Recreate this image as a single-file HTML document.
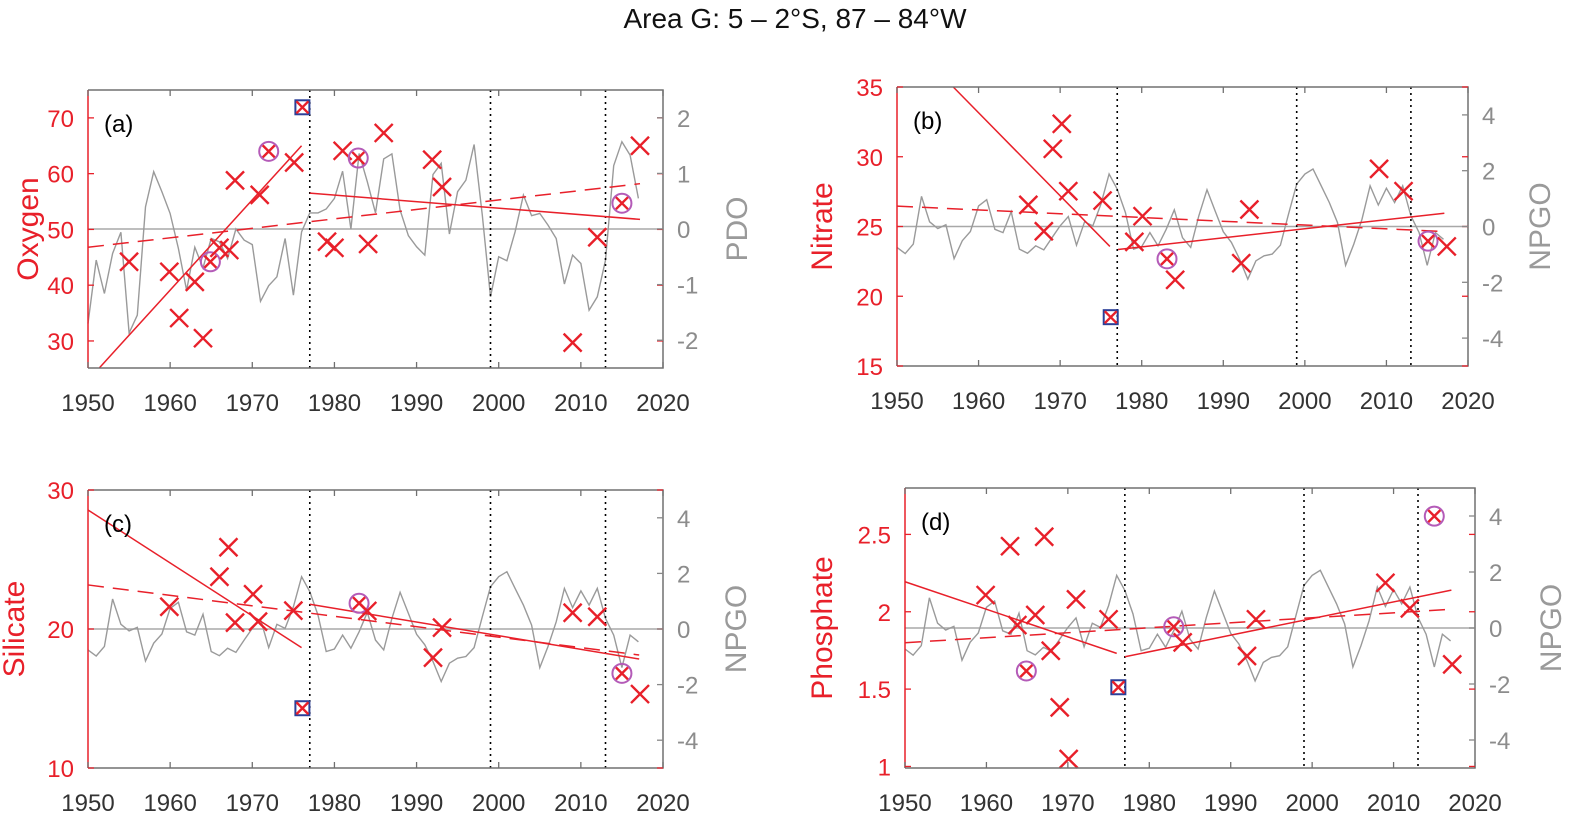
<!DOCTYPE html>
<html><head><meta charset="utf-8"><style>
html,body{margin:0;padding:0;background:#fff;}
svg{display:block;font-family:"Liberation Sans",sans-serif;}
</style></head><body>
<svg id="fig" width="1569" height="816" viewBox="0 0 1569 816" xmlns="http://www.w3.org/2000/svg">
<text x="795" y="28" text-anchor="middle" font-size="28" fill="#111">Area G: 5 – 2°S, 87 – 84°W</text>
</svg>
<script>
const years = [];
for (let y = 1950; y <= 2017; y++) years.push(y);
const pdo = [-1.7,-0.56,-1.16,-0.44,-0.06,-1.87,-1.55,0.4,1.03,0.67,0.28,-0.35,-1.1,-0.33,-0.7,-0.17,-0.23,-0.53,0,-0.2,-0.28,-1.3,-1.02,-0.86,-0.17,-1.19,-0.05,0.29,0.29,0.36,0.55,1.04,0,1.36,0.85,0.29,1.26,1.35,0.34,-0.12,-0.32,-0.47,0.98,1.18,-0.09,0.67,0.88,1.52,0.25,-1.22,-0.5,-0.57,-0.05,0.61,0.24,0.28,0.07,-0.17,-0.99,-0.47,-0.62,-1.46,-1.22,-0.56,1.14,1.57,1.33,0.55];
const npgo = [-0.75,-0.97,-0.63,1.08,0.17,-0.07,0.06,-1.15,-0.51,-0.18,0.74,0.96,-0.1,-0.22,0.53,-0.81,-0.96,-0.69,-0.84,-0.4,0.02,0.36,-0.67,0.17,0.02,0.8,1.88,1.34,0.5,-0.81,-0.72,-0.22,-0.69,-0.1,0.6,-0.4,-0.75,0.38,1.32,0.56,-0.19,-0.57,-1.17,-1.89,-1.23,-1.05,-0.99,-0.67,0.44,1.52,1.88,2.06,1.46,0.86,0.14,-1.39,-0.63,0.26,1.46,0.77,1.37,0.86,1.46,0.38,-0.22,-1.39,-0.22,-0.46];

const oxyYears = [1955,1959.9,1961.1,1963,1964,1964.9,1966,1967.2,1967.9,1970.9,1972,1975.1,1976.1,1979.1,1980,1981,1982.9,1984.1,1986,1991.9,1993.1,2009,2012,2015,2017.2];
const oxyVals = [44.2,42.4,34.1,40.6,30.5,44.2,46.7,46.3,58.8,56.2,64.0,62.0,71.9,47.8,46.7,64.1,62.8,47.4,67.3,62.5,57.6,29.7,48.6,54.7,65.0];
const oxyKind = ['x','x','x','x','x','o','x','x','x','x','o','x','s','x','x','x','o','x','x','x','x','x','x','o','x'];
const oxyTrend = [[1951.4,25.2,1976,65,'solid'],[1977,56.5,2017.2,51.8,'solid'],[1950,46.8,2017.2,58.2,'dash']];

const nitYears = [1966.1,1968,1969.1,1970.2,1971,1975.2,1976.2,1979.1,1980.1,1983.1,1984.1,1992.2,1993.2,2009.1,2012.1,2015.1,2017.4];
const nitVals = [26.55,24.66,30.57,32.36,27.53,26.86,18.5,23.9,25.74,22.68,21.18,22.37,26.22,29.13,27.53,23.95,23.57];
const nitKind = ['x','x','x','x','x','x','s','x','x','o','x','x','x','x','x','o','x'];
const nitTrend = [[1956.9,35,1976.1,23.57,'solid'],[1977.1,23.35,2017.1,25.95,'solid'],[1950,26.46,2017.1,24.64,'dash']];

const silYears = [1959.9,1966,1967.1,1967.9,1970.1,1970.7,1975,1976.1,1983,1984,1992,1993.1,2009,2012,2015,2017.2];
const silVals = [21.6,23.76,25.88,20.46,22.5,20.53,21.32,14.3,21.85,21.3,17.94,20.1,21.17,20.88,16.81,15.32];
const silKind = ['x','x','x','x','x','x','x','s','o','x','x','x','x','x','o','x'];
const silTrend = [[1950,28.56,1976,18.66,'solid'],[1977,21.78,2017.1,17.84,'solid'],[1950,23.17,2017.1,18.13,'dash']];

const phoYears = [1959.9,1962.9,1963.8,1964.9,1966,1967.1,1967.9,1969,1970.1,1971,1975,1976.2,1983,1984.1,1992,1993.1,2009,2012,2015,2017.2];
const phoVals = [2.108,2.424,1.914,1.617,1.979,2.485,1.748,1.382,1.048,2.08,1.951,1.512,1.903,1.802,1.714,1.951,2.187,2.022,2.618,1.66];
const phoKind = ['x','x','x','o','x','x','x','x','x','x','x','s','o','x','x','x','x','x','o','x'];
const phoTrend = [[1950,2.194,1976,1.731,'solid'],[1977,1.709,2017.1,2.14,'solid'],[1950,1.80,2017.1,2.016,'dash']];

const regimeYears = [1977, 1999, 2013];
const xTicks = [1950,1960,1970,1980,1990,2000,2010,2020];

const NS = 'http://www.w3.org/2000/svg';
const svg = document.getElementById('fig');
const RED = '#e8202a', GRAY = '#9a9a9a';
function mk(tag, attrs, parent) {
  const e = document.createElementNS(NS, tag);
  for (const k in attrs) e.setAttribute(k, attrs[k]);
  (parent || svg).appendChild(e);
  return e;
}

function panel(cfg) {
  const g = mk('g', {});
  
  
  const X = v => cfg.L + (v - 1950) / 70 * (cfg.R - cfg.L);
  const Y = v => cfg.B - (v - cfg.y0) / (cfg.y1 - cfg.y0) * (cfg.B - cfg.T);
  const Y2 = v => cfg.B - (v - cfg.r0) / (cfg.r1 - cfg.r0) * (cfg.B - cfg.T);
  const z = mk('line', {x1: cfg.L, x2: cfg.R, y1: Y2(0), y2: Y2(0), stroke: '#a8a8a8', 'stroke-width': 1.6}, g);
  
  
  const pts = cfg.idx.map((v, i) => X(years[i]).toFixed(1) + ',' + Y2(v).toFixed(1)).join(' ');
  const pl = mk('polyline', {points: pts, fill: 'none', stroke: GRAY, 'stroke-width': 1.4}, g);
  
  
  regimeYears.forEach(ry => {
    const l = mk('line', {x1: X(ry), x2: X(ry), y1: cfg.T, y2: cfg.B, stroke: '#000', 'stroke-width': 1.6, 'stroke-dasharray': '2,4'}, g);
    
    
  });
  cfg.trend.forEach(t => {
    const l = mk('line', {x1: X(t[0]), y1: Y(t[1]), x2: X(t[2]), y2: Y(t[3]), stroke: RED, 'stroke-width': 1.5}, g);
    if (t[4] === 'dash') l.setAttribute('stroke-dasharray', '16,9');
    
    
  });
  cfg.ys.forEach((yr, i) => {
    const cx = X(yr), cy = Y(cfg.vs[i]), s = 9;
    if (cfg.kind[i] === 'o') {
      const c = mk('circle', {cx: cx, cy: cy, r: 9.5, fill: 'none', stroke: '#b45bb8', 'stroke-width': 2}, g);
      
      
    }
    if (cfg.kind[i] === 's') {
      const r = mk('rect', {x: cx - 7, y: cy - 7, width: 14, height: 14, fill: 'none', stroke: '#2b3f98', 'stroke-width': 2}, g);
      
      
    }
    const k = cfg.kind[i] === 'x' ? s : 6;
    const p = mk('path', {d: `M${cx - k},${cy - k}L${cx + k},${cy + k}M${cx - k},${cy + k}L${cx + k},${cy - k}`, stroke: RED, 'stroke-width': 2.4, fill: 'none'}, g);
    
    
  });
  const f = mk('path', {d: `M${cfg.L},${cfg.T}H${cfg.R}V${cfg.B}H${cfg.L}`, fill: 'none', stroke: '#707070', 'stroke-width': 1.5}, g);
  
  
  const la = mk('line', {x1: cfg.L, x2: cfg.L, y1: cfg.T, y2: cfg.B, stroke: RED, 'stroke-width': 1.5}, g);
  
  
  xTicks.forEach(t => {
    const x = X(t);
    mk('line', {x1: x, x2: x, y1: cfg.B, y2: cfg.B - 6, stroke: '#707070', 'stroke-width': 1.3}, g);
    mk('line', {x1: x, x2: x, y1: cfg.T, y2: cfg.T + 6, stroke: '#707070', 'stroke-width': 1.3}, g);
    const tx = mk('text', {x: x, y: cfg.B + 43, 'text-anchor': 'middle', 'font-size': 24, fill: '#333'}, g);
    tx.textContent = t;
    
    
  });
  cfg.lt.forEach(t => {
    const y = Y(t);
    mk('line', {x1: cfg.L, x2: cfg.L + 6, y1: y, y2: y, stroke: RED, 'stroke-width': 1.3}, g);
    mk('line', {x1: cfg.R, x2: cfg.R - 6, y1: y, y2: y, stroke: RED, 'stroke-width': 1.3}, g);
    const tx = mk('text', {x: cfg.L - 14, y: y + 9, 'text-anchor': 'end', 'font-size': 24, fill: RED}, g);
    tx.textContent = t;
    
    
  });
  cfg.rt.forEach(t => {
    const y = Y2(t);
    mk('line', {x1: cfg.R, x2: cfg.R - 6, y1: y, y2: y, stroke: '#888', 'stroke-width': 1.3}, g);
    const tx = mk('text', {x: cfg.R + 14, y: y + 9, 'text-anchor': 'start', 'font-size': 24, fill: '#8c8c8c'}, g);
    tx.textContent = t;
    
    
  });
  const cy = (cfg.T + cfg.B) / 2;
  const lt = mk('text', {x: cfg.lx, y: cy, 'text-anchor': 'middle', 'font-size': 30, fill: RED, transform: `rotate(-90 ${cfg.lx} ${cy})`}, g);
  lt.textContent = cfg.ltitle;
  
  
  const rt = mk('text', {x: cfg.rx, y: cy, 'text-anchor': 'middle', 'font-size': 30, fill: '#9a9a9a', transform: `rotate(-90 ${cfg.rx} ${cy})`}, g);
  rt.textContent = cfg.idxName;
  
  
  const pl2 = mk('text', {x: cfg.L + 16, y: cfg.T + 42, 'font-size': 24, fill: '#000'}, g);
  pl2.textContent = '(' + cfg.id + ')';
  
  
}

panel({id: 'a', L: 88, R: 663, T: 90, B: 368, y0: 25.15, y1: 75, r0: -2.5, r1: 2.5, idx: pdo, idxName: 'PDO',
  ys: oxyYears, vs: oxyVals, kind: oxyKind, trend: oxyTrend, lt: [30,40,50,60,70], rt: [-2,-1,0,1,2], ltitle: 'Oxygen', lx: 38, rx: 747});
panel({id: 'b', L: 897, R: 1468, T: 87, B: 366, y0: 15, y1: 35, r0: -5, r1: 5, idx: npgo, idxName: 'NPGO',
  ys: nitYears, vs: nitVals, kind: nitKind, trend: nitTrend, lt: [15,20,25,30,35], rt: [-4,-2,0,2,4], ltitle: 'Nitrate', lx: 832, rx: 1550});
panel({id: 'c', L: 88, R: 663, T: 490, B: 768, y0: 10, y1: 30, r0: -5, r1: 5, idx: npgo, idxName: 'NPGO',
  ys: silYears, vs: silVals, kind: silKind, trend: silTrend, lt: [10,20,30], rt: [-4,-2,0,2,4], ltitle: 'Silicate', lx: 24, rx: 746});
panel({id: 'd', L: 905, R: 1475, T: 488, B: 768, y0: 0.99, y1: 2.8, r0: -5, r1: 5, idx: npgo, idxName: 'NPGO',
  ys: phoYears, vs: phoVals, kind: phoKind, trend: phoTrend, lt: [1,1.5,2,2.5], rt: [-4,-2,0,2,4], ltitle: 'Phosphate', lx: 832, rx: 1561});
</script>
</body></html>
